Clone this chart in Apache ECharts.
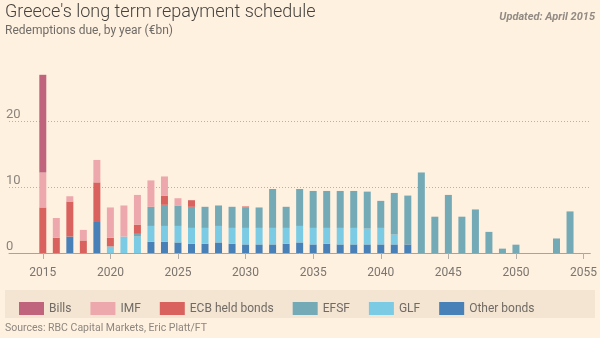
<!DOCTYPE html>
<html>
<head>
<meta charset="utf-8">
<script src="https://cdn.jsdelivr.net/npm/echarts@6/dist/echarts.min.js"></script>
<style>
  html, body { margin: 0; padding: 0; background: #fff1e0; }
  #chart { width: 600px; height: 338px; }
</style>
</head>
<body>
<div id="chart"></div>
<script>
// Redemptions due by year, €bn, split by creditor
var years = [2015, 2016, 2017, 2018, 2019, 2020, 2021, 2022, 2023, 2024,
             2025, 2026, 2027, 2028, 2029, 2030, 2031, 2032, 2033, 2034,
             2035, 2036, 2037, 2038, 2039, 2040, 2041, 2042, 2043, 2044,
             2045, 2046, 2047, 2048, 2049, 2050, 2051, 2052, 2053, 2054];

var otherBonds = [null, null, 2.5, null, 4.7, null, null, null, 1.7, 1.7,
                  1.6, 1.4, 1.4, 1.6, 1.4, 1.3, 1.3, 1.3, 1.4, 1.6,
                  1.3, 1.4, 1.3, 1.3, 1.3, 1.3, 1.3, 1.3, null, null,
                  null, null, null, null, null, null, null, null, null, null];

var glf = [null, null, null, null, null, 1.0, 2.5, 2.5, 2.4, 2.4,
           2.5, 2.4, 2.4, 2.5, 2.4, 2.5, 2.5, 2.5, 2.4, 2.5,
           2.5, 2.4, 2.5, 2.5, 2.4, 2.5, 1.5, null, null, null,
           null, null, null, null, null, null, null, null, null, null];

var efsf = [null, null, null, null, null, null, null, 0.4, 2.9, 3.2,
            3.1, 3.2, 3.2, 3.1, 3.2, 3.1, 3.1, 5.9, 3.2, 5.6,
            5.6, 5.6, 5.6, 5.6, 5.6, 4.1, 6.3, 7.4, 12.2, 5.5,
            8.8, 5.5, 6.6, 3.2, 0.66, 1.26, null, null, 2.2, 6.3];

var ecbBonds = [6.9, 2.3, 5.3, 1.9, 6.0, 1.3, null, 1.4, null, 1.4,
                null, 1.0, null, null, null, 0.15, null, null, null, null,
                null, null, null, null, null, null, null, null, null, null,
                null, null, null, null, null, null, null, null, null, null];

var imf = [5.3, 3.0, 0.8, 1.6, 3.4, 4.6, 4.7, 4.5, 4.0, 2.9,
           1.1, null, null, null, null, null, null, null, null, null,
           null, null, null, null, null, null, null, null, null, null,
           null, null, null, null, null, null, null, null, null, null];

var bills = [14.8, null, null, null, null, null, null, null, null, null,
             null, null, null, null, null, null, null, null, null, null,
             null, null, null, null, null, null, null, null, null, null,
             null, null, null, null, null, null, null, null, null, null];

// Axis runs a little past the data on both sides
var axisYears = [];
for (var y = 2013; y <= 2055; y++) axisYears.push(String(y));

// Stack order, bottom to top
var seriesDefs = [
  { name: 'Other bonds', values: otherBonds, color: '#4880b8' },
  { name: 'GLF', values: glf, color: '#7bcbe5' },
  { name: 'EFSF', values: efsf, color: '#74a9b6' },
  { name: 'ECB held bonds', values: ecbBonds, color: '#d9625f' },
  { name: 'IMF', values: imf, color: '#eca8ac' },
  { name: 'Bills', values: bills, color: '#c0647e' }
];
var legendOrder = ['Bills', 'IMF', 'ECB held bonds', 'EFSF', 'GLF', 'Other bonds'];

var chart = echarts.init(document.getElementById('chart'), null, { renderer: 'canvas' });

var series = seriesDefs.map(function (d) {
  return {
    name: d.name,
    type: 'bar',
    stack: 'total',
    barWidth: 7,
    itemStyle: { color: d.color },
    emphasis: { disabled: true },
    data: years.map(function (yr, i) { return [String(yr), d.values[i]]; })
  };
});

function everyFifth(index, value) { return Number(value) % 5 === 0; }

chart.setOption({
  backgroundColor: '#fff1e0',
  animation: false,
  textStyle: { fontFamily: 'Roboto' },
  graphic: [
    { type: 'text', left: 5, top: 3,
      style: { text: "Greece's long term repayment schedule", fontFamily: 'Roboto', fontSize: 18, fontWeight: 300, fill: '#45423e' } },
    { type: 'text', left: 5, top: 25,
      style: { text: 'Redemptions due, by year (€bn)', fontFamily: 'Roboto', fontSize: 12, fill: '#6f6b66' } },
    { type: 'text', right: 5, top: 12,
      style: { text: 'Updated: April 2015', fontFamily: 'Roboto', fontSize: 11, fontStyle: 'italic', fontWeight: 'bold', fill: '#918b84' } },
    { type: 'rect', left: 5, top: 290, z: -1,
      shape: { width: 590, height: 28 },
      style: { fill: '#f4e5d3' } },
    { type: 'text', left: 5, top: 323,
      style: { text: 'Sources: RBC Capital Markets, Eric Platt/FT', fontFamily: 'Roboto', fontSize: 10.5, fill: '#8c867f' } }
  ],
  legend: {
    data: legendOrder,
    left: 14,
    top: 297,
    icon: 'rect',
    itemWidth: 25,
    itemHeight: 13,
    itemGap: 19,
    selectedMode: false,
    textStyle: { fontFamily: 'Roboto', fontSize: 12, color: '#6f6a64' }
  },
  grid: { left: 9, right: 6.3, top: 55, bottom: 85, containLabel: false },
  xAxis: {
    type: 'category',
    data: axisYears,
    boundaryGap: true,
    splitLine: { show: false },
    axisLine: { show: true, lineStyle: { color: '#a9a39b', width: 1 } },
    axisTick: { show: true, alignWithLabel: true, interval: everyFifth, length: 6, lineStyle: { color: '#b5aea5' } },
    axisLabel: {
      interval: everyFifth,
      margin: 14,
      fontFamily: 'Roboto',
      fontSize: 12,
      color: '#7a756f'
    }
  },
  yAxis: {
    type: 'value',
    min: 0,
    max: 30,
    interval: 10,
    axisLine: { show: false },
    axisTick: { show: false },
    axisLabel: {
      inside: true,
      margin: -3,
      verticalAlign: 'bottom',
      fontFamily: 'Roboto',
      fontSize: 13,
      color: '#8a847d',
      formatter: function (v) { return v > 20 ? '' : String(v); }
    },
    splitLine: {
      show: true,
      showMinLine: false,
      showMaxLine: false,
      lineStyle: { type: [1, 2], color: '#b9b1a6', width: 1 }
    }
  },
  series: series
});
</script>
</body>
</html>
